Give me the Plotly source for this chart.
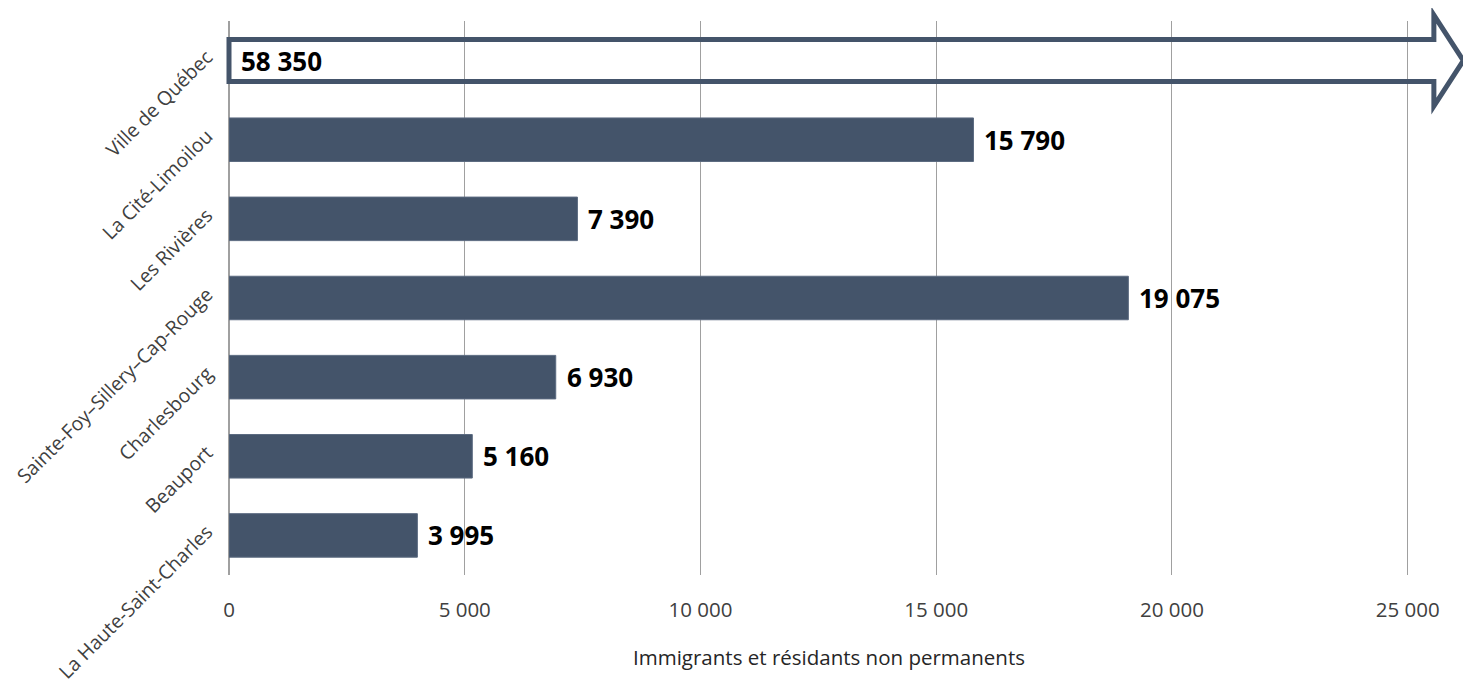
import plotly.graph_objects as go

# data, top to bottom as in the chart
areas = [
    "Ville de Québec",
    "La Cité-Limoilou",
    "Les Rivières",
    "Sainte-Foy–Sillery–Cap-Rouge",
    "Charlesbourg",
    "Beauport",
    "La Haute-Saint-Charles",
]
counts = [58350, 15790, 7390, 19075, 6930, 5160, 3995]

x_ticks = [0, 5000, 10000, 15000, 20000, 25000]
x_title = "Immigrants et résidants non permanents"

BAR = "#44546A"
AXIS_MAX = 26300
LABEL_FONT = {"family": "Open Sans", "size": 26, "color": "black"}


def fmt(v):
    return f"{v:,}".replace(",", " ")


positions = list(range(len(areas)))
n = len(areas)

# bars that fit on the scale
in_scale = [(p, v) for p, v in zip(positions, counts) if v <= AXIS_MAX]
off_scale = [(p, v) for p, v in zip(positions, counts) if v > AXIS_MAX]

fig = go.Figure()

fig.add_trace(
    go.Bar(
        x=[v for _, v in in_scale],
        y=[p for p, _ in in_scale],
        orientation="h",
        width=0.55,
        marker={"color": BAR, "line": {"color": "#5b6a80", "width": 1}},
        hoverinfo="x+y",
        showlegend=False,
    )
)

annotations = []
for p, v in in_scale:
    annotations.append(
        dict(
            x=v, y=p, xref="x", yref="y",
            text=f"<b>{fmt(v)}</b>",
            showarrow=False, xanchor="left", xshift=9,
            font=LABEL_FONT,
        )
    )


def py(cat):
    # category position -> paper y (axis reversed, one slot per category)
    return 1 - (cat + 0.5) / n


# bars off the scale are drawn as an outlined arrow running past the plot
shapes = []
for p, v in off_scale:
    shaft = 0.265
    head = 0.575
    base = (AXIS_MAX - 745) / AXIS_MAX
    tip = (AXIS_MAX - 120) / AXIS_MAX
    path = (
        f"M 0,{py(p - shaft)} L {base},{py(p - shaft)} L {base},{py(p - head)} "
        f"L {tip},{py(p)} L {base},{py(p + head)} L {base},{py(p + shaft)} "
        f"L 0,{py(p + shaft)} Z"
    )
    shapes.append(
        dict(
            type="path", path=path, xref="paper", yref="paper",
            line={"color": BAR, "width": 5},
            fillcolor="rgba(0,0,0,0)", layer="above",
        )
    )
    annotations.append(
        dict(
            x=0, y=p, xref="x", yref="y",
            text=f"<b>{fmt(v)}</b>",
            showarrow=False, xanchor="left", xshift=10,
            font=LABEL_FONT,
        )
    )

annotations.append(
    dict(
        x=0.484, y=-0.148, xref="paper", yref="paper",
        text=x_title, showarrow=False, yanchor="middle",
        font={"family": "Open Sans", "size": 20.5, "color": "#262626"},
    )
)

# the page body adds an 8px offset, so margins are trimmed by that much
fig.update_layout(
    width=1471,
    height=683,
    margin={"l": 221, "r": 10, "t": 13, "b": 116},
    plot_bgcolor="white",
    paper_bgcolor="white",
    separators=", ",
    shapes=shapes,
    annotations=annotations,
)

fig.update_xaxes(
    range=[0, AXIS_MAX],
    tickvals=x_ticks,
    tickformat=",",
    showgrid=True,
    gridcolor="#a0a0a0",
    gridwidth=1,
    zeroline=True,
    zerolinecolor="#a0a0a0",
    zerolinewidth=1.5,
    showline=False,
    ticks="",
    ticklabelstandoff=20,
    automargin=False,
    tickfont={"family": "Open Sans", "size": 20.5, "color": "#404040"},
)

fig.update_yaxes(
    range=[n - 0.5, -0.5],
    tickvals=positions,
    ticktext=areas,
    tickangle=-45,
    showgrid=False,
    zeroline=False,
    showline=False,
    ticks="",
    ticklabelstandoff=21,
    ticklabelshift=6,
    ticklabeloverflow="allow",
    automargin=False,
    tickfont={"family": "Open Sans", "size": 19.5, "color": "#404040"},
)

fig.write_html("out.html")
